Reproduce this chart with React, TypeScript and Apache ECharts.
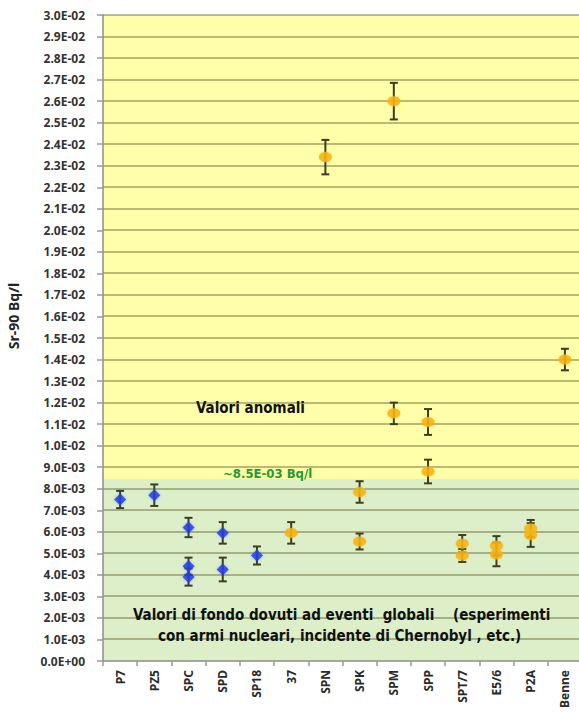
import React, { useEffect, useRef } from "react";
import * as echarts from "echarts";

const categories = ["P7", "PZ5", "SPC", "SPD", "SP18", "37", "SPN", "SPK", "SPM", "SPP", "SPT/7", "E5/6", "P2A", "Benne"];

// [category index, value (Bq/l), error]
const bluePoints: [number, number, number][] = [
  [0, 7.5e-3, 0.4e-3],
  [1, 7.7e-3, 0.5e-3],
  [2, 6.2e-3, 0.45e-3],
  [2, 4.4e-3, 0.4e-3],
  [2, 3.9e-3, 0.4e-3],
  [3, 5.95e-3, 0.5e-3],
  [3, 4.25e-3, 0.55e-3],
  [4, 4.9e-3, 0.42e-3],
];

const orangePoints: [number, number, number][] = [
  [5, 5.95e-3, 0.5e-3],
  [6, 23.4e-3, 0.8e-3],
  [7, 7.85e-3, 0.5e-3],
  [7, 5.55e-3, 0.37e-3],
  [8, 26.0e-3, 0.85e-3],
  [8, 11.5e-3, 0.5e-3],
  [9, 11.1e-3, 0.6e-3],
  [9, 8.8e-3, 0.55e-3],
  [10, 5.45e-3, 0.4e-3],
  [10, 4.9e-3, 0.3e-3],
  [11, 5.35e-3, 0.45e-3],
  [11, 4.95e-3, 0.55e-3],
  [12, 6.15e-3, 0.4e-3],
  [12, 5.85e-3, 0.55e-3],
  [13, 14.0e-3, 0.5e-3],
];

const yMin = 0;
const yMax = 0.03;
const yInterval = 0.001;
const threshold = 8.45e-3;

// background bands: [from, to]
const bandRanges: [number, number][] = [
  [yMin, threshold],
  [threshold, yMax],
];
const bandColors = ["#ddefc9", "#ffffaa"];

const yAxisTitle = "Sr-90 Bq/l";
const anomalyText = "Valori anomali";
const thresholdText = "~8.5E-03 Bq/l";
const backgroundLine1 = "Valori di fondo dovuti ad eventi  globali    (esperimenti";
const backgroundLine2 = "con armi nucleari, incidente di Chernobyl , etc.)";

const gridValues: number[] = [];
for (let i = 1; i <= 30; i++) gridValues.push(i * yInterval);

function fmtExp(v: number): string {
  if (Math.abs(v) < 1e-12) return "0.0E+00";
  const s = v.toExponential(1);
  const [m, e] = s.split("e");
  const sign = e[0] === "-" ? "-" : "+";
  const digits = e.replace(/[-+]/, "").padStart(2, "0");
  return `${m}E${sign}${digits}`;
}

const errorRender = (params: any, api: any) => {
  const x = api.value(0);
  const y = api.value(1);
  const e = api.value(2);
  const top = api.coord([x, y + e]);
  const bot = api.coord([x, y - e]);
  const cap = 4;
  const style = { stroke: "#3d3d22", lineWidth: 2 };
  return {
    type: "group",
    children: [
      { type: "line", shape: { x1: top[0], y1: top[1], x2: bot[0], y2: bot[1] }, style },
      { type: "line", shape: { x1: top[0] - cap, y1: top[1], x2: top[0] + cap, y2: top[1] }, style },
      { type: "line", shape: { x1: bot[0] - cap, y1: bot[1], x2: bot[0] + cap, y2: bot[1] }, style },
    ],
  };
};

// background bands, then horizontal gridlines as thin rects on top
const backgroundRender = (params: any, api: any) => {
  const cs = params.coordSys;
  const children: any[] = [];
  bandRanges.forEach((r, i) => {
    const y0 = api.coord([0, r[0]])[1];
    const y1 = api.coord([0, r[1]])[1];
    children.push({
      type: "rect",
      shape: { x: cs.x, y: Math.min(y0, y1), width: cs.width, height: Math.abs(y0 - y1) },
      style: { fill: bandColors[i] },
    });
  });
  gridValues.forEach((v) => {
    const y = Math.round(api.coord([0, v])[1]);
    children.push({
      type: "rect",
      shape: { x: cs.x, y: y - 1, width: cs.width, height: 2 },
      style: { fill: "rgba(90,90,40,0.42)" },
    });
  });
  return { type: "group", children };
};

const condensed = "'Liberation Sans Narrow', 'DejaVu Sans Condensed', 'Roboto', sans-serif";
const labelFont = "'Noto Sans', 'Open Sans', sans-serif";

export default function App() {
  const ref = useRef<HTMLDivElement>(null);
  useEffect(() => {
    if (!ref.current) return;
    const chart = echarts.init(ref.current, null, { renderer: "svg" });
    chart.setOption({
      animation: false,
      backgroundColor: "#ffffff",
      grid: { left: 103, top: 15, right: 18, bottom: 57 },
      xAxis: {
        type: "category",
        data: categories,
        boundaryGap: true,
        z: 3,
        axisLine: { lineStyle: { color: "#8c8c8c", width: 1.5 } },
        axisTick: { show: true, length: 5, lineStyle: { color: "#9a9a9a", width: 1.5 } },
        axisLabel: {
          rotate: 90,
          margin: 9,
          color: "#2a2a2a",
          fontSize: 12,
          fontWeight: "bold",
          fontFamily: labelFont,
        },
      },
      yAxis: {
        type: "value",
        min: yMin,
        max: yMax,
        interval: yInterval,
        z: 3,
        axisLine: { show: true, lineStyle: { color: "#8c8c8c", width: 1.5 } },
        axisTick: { show: true, length: 6, lineStyle: { color: "#9a9a9a", width: 1.5 } },
        splitLine: { show: false },
        axisLabel: {
          margin: 18,
          color: "#333333",
          fontSize: 12,
          fontWeight: "bold",
          fontFamily: labelFont,
          formatter: (v: number) => fmtExp(v),
        },
      },
      graphic: [
        {
          type: "text",
          x: 13,
          y: 316,
          rotation: Math.PI / 2,
          style: {
            text: yAxisTitle,
            fill: "#222222",
            font: `bold 14px ${labelFont}`,
            align: "center",
            verticalAlign: "middle",
          },
        },
        {
          type: "text",
          x: 196,
          y: 408,
          z: 100,
          style: {
            text: anomalyText,
            fill: "#111111",
            font: `bold 15px ${condensed}`,
            align: "left",
            verticalAlign: "middle",
          },
        },
        {
          type: "text",
          x: 223,
          y: 473,
          z: 100,
          style: {
            text: thresholdText,
            fill: "#1f9a36",
            font: `bold 13px ${condensed}`,
            align: "left",
            verticalAlign: "middle",
          },
        },
        {
          type: "text",
          x: 133,
          y: 615,
          z: 100,
          style: {
            text: backgroundLine1,
            fill: "#111111",
            font: `bold 15px ${condensed}`,
            align: "left",
            verticalAlign: "middle",
          },
        },
        {
          type: "text",
          x: 158,
          y: 636,
          z: 100,
          style: {
            text: backgroundLine2,
            fill: "#111111",
            font: `bold 15px ${condensed}`,
            align: "left",
            verticalAlign: "middle",
          },
        },
      ],
      series: [
        {
          type: "custom",
          renderItem: backgroundRender,
          data: [[0, yMin]],
          encode: { x: 0, y: 1 },
          silent: true,
          clip: false,
          z: 1,
        },
        {
          type: "custom",
          renderItem: errorRender,
          data: [...bluePoints, ...orangePoints],
          encode: { x: 0, y: 1 },
          z: 4,
        },
        {
          type: "scatter",
          data: bluePoints.map((p) => [p[0], p[1]]),
          symbol: "diamond",
          symbolSize: [12, 12],
          itemStyle: { color: "#1f3be0", shadowBlur: 3, shadowColor: "rgba(60,90,255,0.6)" },
          z: 5,
        },
        {
          type: "scatter",
          data: orangePoints.map((p) => [p[0], p[1]]),
          symbol: "circle",
          symbolSize: [13, 10],
          itemStyle: { color: "#f5b10a", shadowBlur: 2, shadowColor: "rgba(255,190,40,0.6)" },
          z: 5,
        },
      ],
    });
    return () => chart.dispose();
  }, []);
  return (
    <div
      style={{
        position: "fixed",
        left: 0,
        top: 0,
        width: 579,
        height: 718,
        overflow: "hidden",
        background: "#ffffff",
      }}
    >
      <div ref={ref} style={{ width: 600, height: 718 }} />
    </div>
  );
}
